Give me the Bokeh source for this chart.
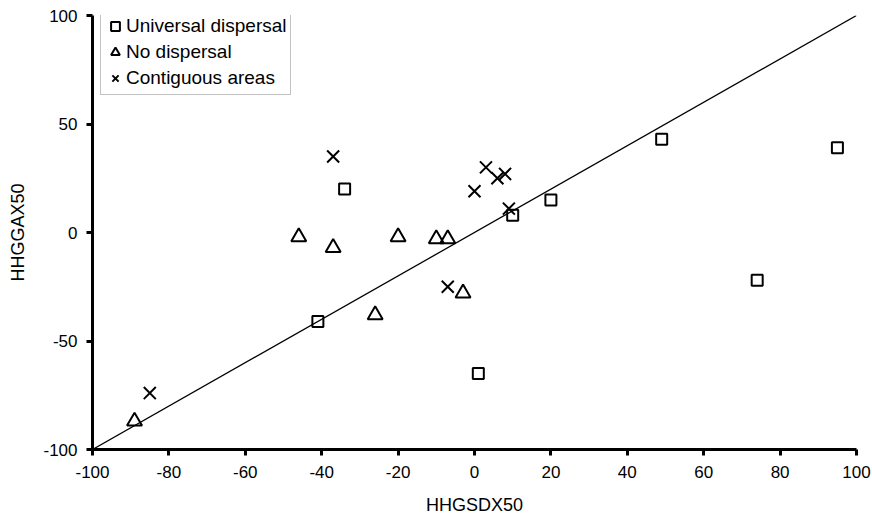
from bokeh.plotting import figure
from bokeh.models import Range1d, FixedTicker, Legend, LegendItem, Slope
from bokeh.embed import file_html
from bokeh.resources import INLINE

# Universal dispersal (squares)
ud_x = [-34, -41, 1, 10, 20, 49, 74, 95]
ud_y = [20, -41, -65, 8, 15, 43, -22, 39]
# No dispersal (triangles)
nd_x = [-89, -46, -37, -26, -20, -10, -7, -3]
nd_y = [-87, -2, -7, -38, -2, -3, -3, -28]
# Contiguous areas (crosses)
ca_x = [-85, -37, -7, 0, 3, 6, 8, 9]
ca_y = [-74, 35, -25, 19, 30, 25, 27, 11]

x_ticks = [-100, -80, -60, -40, -20, 0, 20, 40, 60, 80, 100]
y_ticks = [-100, -50, 0, 50, 100]

FONT = "Liberation Sans"

p = figure(width=872, height=519, output_backend="svg", toolbar_location=None,
           x_range=Range1d(-100, 100), y_range=Range1d(-100, 100),
           min_border_left=92, min_border_right=16, min_border_top=15, min_border_bottom=70)
p.outline_line_color = None
p.xgrid.visible = False
p.ygrid.visible = False

for ax in (p.xaxis[0], p.yaxis[0]):
    ax.axis_line_width = 3
    ax.axis_line_color = "black"
    ax.major_tick_line_width = 3
    ax.major_tick_line_color = "black"
    ax.major_tick_out = 6
    ax.major_tick_in = 0
    ax.minor_tick_line_color = None
    ax.major_label_text_font = FONT
    ax.major_label_text_font_size = "17px"
    ax.major_label_text_color = "black"
    ax.axis_label_text_font = FONT
    ax.axis_label_text_font_size = "18px"
    ax.axis_label_text_font_style = "normal"
    ax.axis_label_text_color = "black"

p.xaxis[0].ticker = FixedTicker(ticks=x_ticks)
p.yaxis[0].ticker = FixedTicker(ticks=y_ticks)
p.xaxis[0].major_label_overrides = {t: str(t) for t in x_ticks}
p.yaxis[0].major_label_overrides = {t: str(t) for t in y_ticks}
p.xaxis[0].axis_label = "HHGSDX50"
p.yaxis[0].axis_label = "HHGGAX50"
p.xaxis[0].major_label_standoff = 10
p.xaxis[0].axis_label_standoff = 14
p.yaxis[0].major_label_standoff = 9
p.yaxis[0].axis_label_standoff = 12

p.add_layout(Slope(gradient=1, y_intercept=0, line_color="black", line_width=1.3))

r_ud = p.scatter(ud_x, ud_y, marker="square", size=11, fill_color="white",
                 line_color="black", line_width=2)
r_nd = p.scatter(nd_x, nd_y, marker="triangle", size=15, fill_color=None,
                 line_color="black", line_width=2)
r_ca = p.scatter(ca_x, ca_y, marker="x", size=17, line_color="black", line_width=2)

legend = Legend(items=[
    LegendItem(label="Universal dispersal", renderers=[r_ud]),
    LegendItem(label="No dispersal", renderers=[r_nd]),
    LegendItem(label="Contiguous areas", renderers=[r_ca]),
], location=(8, 354))
legend.label_text_font = FONT
legend.label_text_font_size = "19px"
legend.label_text_color = "black"
legend.glyph_width = 22
legend.glyph_height = 26
legend.label_height = 26
legend.label_standoff = 0
legend.spacing = 0
legend.padding = 3
legend.margin = 0
legend.border_line_color = "#888888"
legend.border_line_width = 1
legend.background_fill_alpha = 1
p.add_layout(legend, "center")

open("out.html", "w").write(file_html(p, INLINE))
